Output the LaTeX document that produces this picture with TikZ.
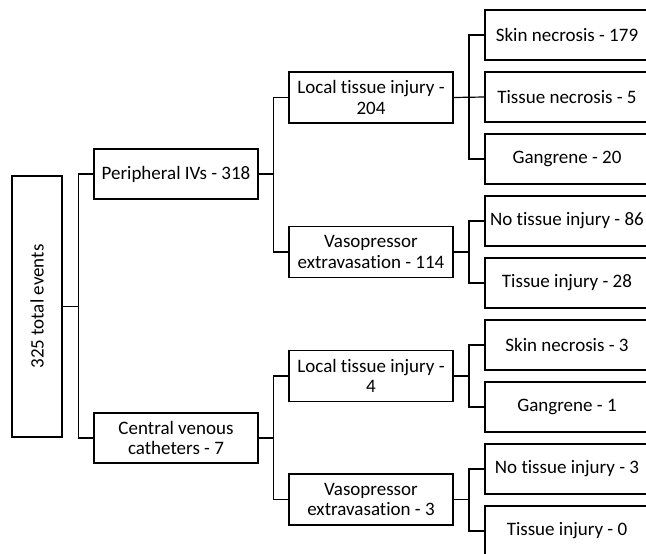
\documentclass[tikz,border=0pt]{standalone}
\usepackage{fontspec}
\setmainfont[Ligatures={NoCommon,NoContextual}]{Carlito}
\begin{document}
\begin{tikzpicture}[x=1pt,y=-1pt,
  box/.style={draw, line width=1.2pt, inner sep=0pt, align=center,
    font=\fontsize{19}{20.5}\selectfont},
  lone/.style={box, minimum width=164, minimum height=50},
  ltwo/.style={box, minimum width=164, minimum height=51},
  lthree/.style={box, minimum width=164, minimum height=50},
  conn/.style={line width=1.2pt}]
\clip (0,0) rectangle (646,554);
\fill[white] (0,0) rectangle (646,554);
% root
\node[box, minimum width=261, minimum height=50, rotate=90] (root) at (37,306.5) {325 total events};
% level 1
\node[lone] (piv) at (176,174) {Peripheral IVs - 318};
\node[lone] (cvc) at (176,438) {Central venous\\catheters - 7};
% level 2
\node[ltwo] (lti1) at (371,97.5) {Local tissue injury -\\204};
\node[ltwo] (vp1) at (371,252) {Vasopressor\\extravasation - 114};
\node[ltwo] (lti2) at (371,376) {Local tissue injury -\\4};
\node[ltwo] (vp2) at (371,499.5) {Vasopressor\\extravasation - 3};
% level 3
\node[lthree] (sk1) at (567,35) {Skin necrosis - 179};
\node[lthree] (tn1) at (567,97) {Tissue necrosis - 5};
\node[lthree] (gg1) at (567,159) {Gangrene - 20};
\node[lthree] (nti1) at (567,221) {No tissue injury - 86};
\node[lthree] (ti1) at (567,283) {Tissue injury - 28};
\node[lthree] (sk2) at (567,345) {Skin necrosis - 3};
\node[lthree] (gg2) at (567,407) {Gangrene - 1};
\node[lthree] (nti2) at (567,469) {No tissue injury - 3};
\node[lthree] (ti2) at (567,531) {Tissue injury - 0};
% bus coordinates
\coordinate (b0) at (78.5,0);
\coordinate (b1) at (273.5,0);
\coordinate (b2) at (469,0);
% connectors
\draw[conn] (root.south) -- (root.south -| b0);
\draw[conn] (piv.west) -- (piv.west -| b0) -- (cvc.west -| b0) -- (cvc.west);
\draw[conn] (piv.east) -- (piv.east -| b1);
\draw[conn] (lti1.west) -- (lti1.west -| b1) -- (vp1.west -| b1) -- (vp1.west);
\draw[conn] (cvc.east) -- (cvc.east -| b1);
\draw[conn] (lti2.west) -- (lti2.west -| b1) -- (vp2.west -| b1) -- (vp2.west);
\draw[conn] (lti1.east) -- (tn1.west);
\draw[conn] (sk1.west) -- (sk1.west -| b2) -- (gg1.west -| b2) -- (gg1.west);
\draw[conn] (vp1.east) -- (vp1.east -| b2);
\draw[conn] (nti1.west) -- (nti1.west -| b2) -- (ti1.west -| b2) -- (ti1.west);
\draw[conn] (lti2.east) -- (lti2.east -| b2);
\draw[conn] (sk2.west) -- (sk2.west -| b2) -- (gg2.west -| b2) -- (gg2.west);
\draw[conn] (vp2.east) -- (vp2.east -| b2);
\draw[conn] (nti2.west) -- (nti2.west -| b2) -- (ti2.west -| b2) -- (ti2.west);
\end{tikzpicture}
\end{document}
